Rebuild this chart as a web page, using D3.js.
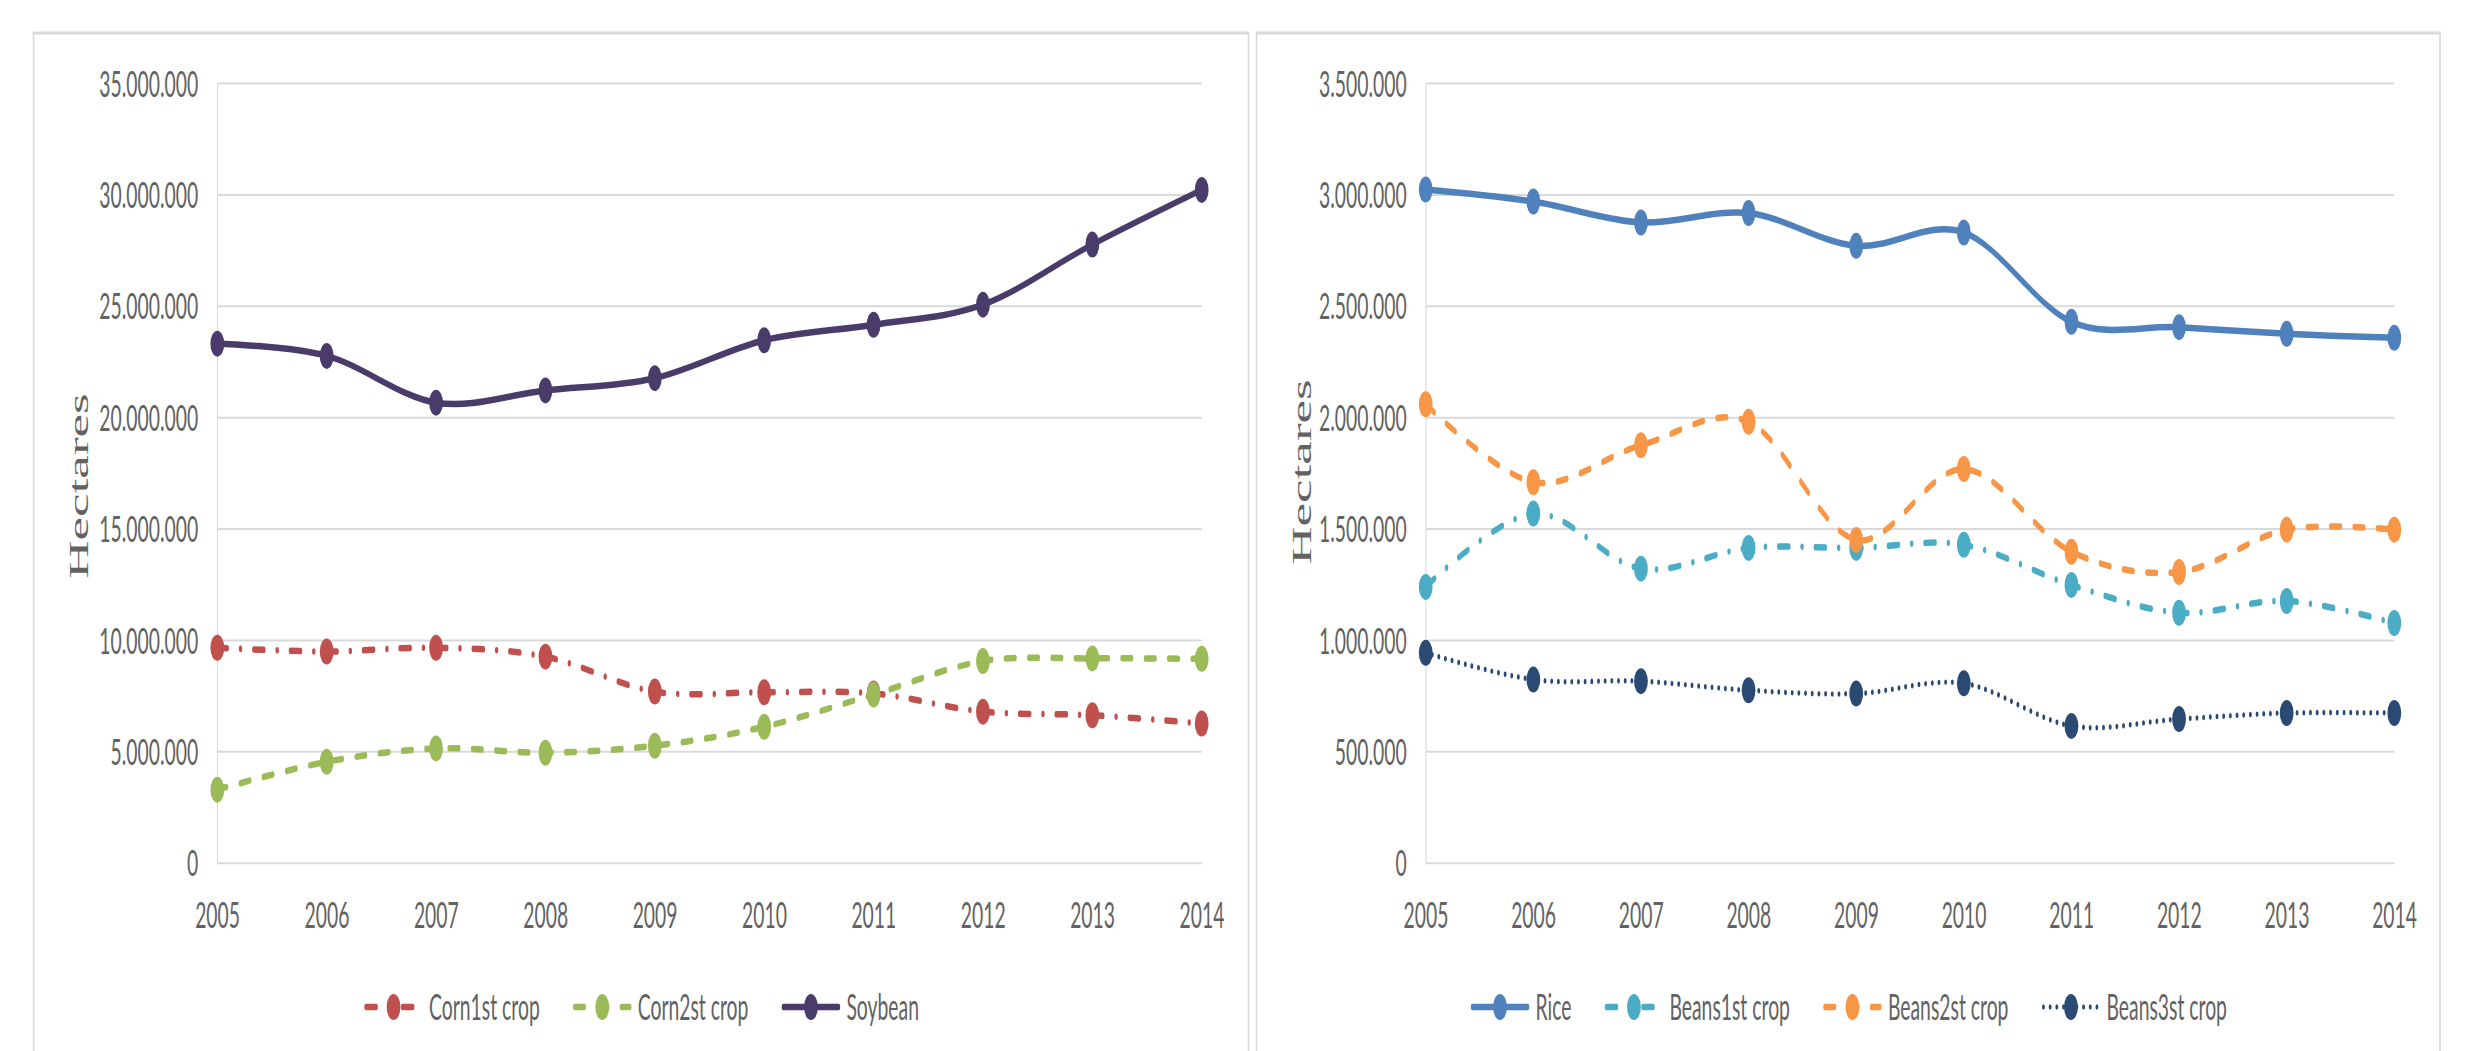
<!DOCTYPE html>
<html>
<head>
<meta charset="utf-8">
<script src="https://cdn.jsdelivr.net/npm/d3@7"></script>
<style>
  html, body { margin: 0; padding: 0; background: #fff; }
  svg { display: block; }
</style>
</head>
<body>
<svg id="chart" width="2466" height="1051"></svg>
<script>
// ---- data ---------------------------------------------------------------
const years = [2005, 2006, 2007, 2008, 2009, 2010, 2011, 2012, 2013, 2014];

// planted area, hectares
const corn1st = [9650000, 9480000, 9650000, 9250000, 7680000, 7650000, 7600000, 6780000, 6620000, 6250000];
const corn2nd = [3280000, 4530000, 5130000, 4940000, 5250000, 6100000, 7550000, 9050000, 9170000, 9150000];
const soybean = [23300000, 22750000, 20650000, 21200000, 21750000, 23450000, 24150000, 25050000, 27750000, 30200000];

const rice    = [3022000, 2968000, 2874000, 2916000, 2769000, 2829000, 2428000, 2404000, 2374000, 2356000];
const beans1  = [1238000, 1567000, 1320000, 1413000, 1413000, 1427000, 1247000, 1122000, 1175000, 1076000];
const beans2  = [2058000, 1708000, 1874000, 1979000, 1449000, 1767000, 1396000, 1305000, 1495000, 1495000];
const beans3  = [942000, 822000, 815000, 774000, 759000, 805000, 614000, 645000, 672000, 672000];

const leftTicks  = [0, 5000000, 10000000, 15000000, 20000000, 25000000, 30000000, 35000000];
const rightTicks = [0, 500000, 1000000, 1500000, 2000000, 2500000, 3000000, 3500000];

const leftNames  = ["Corn1st crop", "Corn2st crop", "Soybean"];
const rightNames = ["Rice", "Beans1st crop", "Beans2st crop", "Beans3st crop"];

// ---- drawing setup --------------------------------------------------------
const K = 0.53;                 // horizontal squeeze applied to the whole drawing
const X = v => v / K;           // screen x -> drawing x
const Y_ZERO = 862.7, Y_TOP = 83;
const TEXT = "#626262";
const SANS = "Lato, 'Open Sans', sans-serif";

const dashes = {
  solid: null,
  dashDot: "19 25 0.01 25",
  dash: "18 26",
  dot: "0.01 12.6"
};

const fmt = d3.formatLocale({ decimal: ",", thousands: ".", grouping: [3], currency: ["", ""] }).format(",d");

const svg = d3.select("#chart");
svg.append("rect").attr("width", 2466).attr("height", 1051).attr("fill", "#fff");
const root = svg.append("g").attr("transform", `scale(${K},1)`);

function drawPanel(p) {
  const g = root.append("g");

  // chart frame
  g.append("rect")
    .attr("x", X(p.frame[0])).attr("y", 33)
    .attr("width", X(p.frame[1] - p.frame[0])).attr("height", 1100)
    .attr("fill", "#fff").attr("stroke", "#d9d9d9").attr("stroke-width", 3);

  const x = d3.scalePoint().domain(years).range([X(p.plot[0]), X(p.plot[1])]);
  const y = d3.scaleLinear().domain([0, p.max]).range([Y_ZERO, Y_TOP]);

  // value axis + gridlines
  const ya = g.append("g")
    .attr("transform", `translate(${X(p.plot[0])},0)`)
    .call(d3.axisLeft(y).tickValues(p.ticks).tickFormat(fmt)
      .tickSize(-(X(p.plot[1]) - X(p.plot[0]))).tickSizeOuter(0).tickPadding(36));
  ya.select(".domain").attr("stroke", "#d9d9d9").attr("stroke-width", 2);
  ya.selectAll(".tick line").attr("stroke", "#d9d9d9").attr("stroke-width", 2);
  ya.selectAll(".tick text")
    .attr("fill", TEXT).attr("dy", "0.36em")
    .style("font-family", SANS).style("font-size", "36.5px");

  // year axis labels
  const xa = g.append("g")
    .attr("transform", `translate(0,${Y_ZERO})`)
    .call(d3.axisBottom(x).tickSize(0).tickPadding(39));
  xa.select(".domain").remove();
  xa.selectAll(".tick text")
    .attr("fill", TEXT)
    .style("font-family", SANS).style("font-size", "36.5px");

  // axis title
  g.append("text")
    .attr("transform", `translate(${X(p.titleAt[0])},${p.titleAt[1]}) rotate(-90)`)
    .attr("text-anchor", "middle").attr("dy", "0.33em")
    .attr("fill", TEXT)
    .style("font-family", "'Liberation Serif', 'DejaVu Serif', serif").style("font-size", "53px")
    .text("Hectares");

  // series
  const line = d3.line()
    .x((d, i) => x(years[i]))
    .y(d => y(d))
    .curve(d3.curveCardinal);

  p.series.forEach(s => {
    const sg = g.append("g");
    sg.append("path")
      .attr("d", line(s.values))
      .attr("fill", "none").attr("stroke", s.color)
      .attr("stroke-width", s.style === "dot" ? 5.5 : 6.5)
      .attr("stroke-linecap", "round").attr("stroke-linejoin", "round")
      .attr("stroke-dasharray", dashes[s.style]);
    sg.selectAll("circle").data(s.values).join("circle")
      .attr("cx", (d, i) => x(years[i])).attr("cy", d => y(d))
      .attr("r", 13).attr("fill", s.color);
  });

  // legend, centred on the frame
  const lg = g.append("g");
  const items = p.series.map(s => {
    const ig = lg.append("g");
    const t = ig.append("text")
      .attr("x", X(66)).attr("y", 1007).attr("dy", "0.36em")
      .attr("fill", TEXT)
      .style("font-family", SANS).style("font-size", "36.5px")
      .text(s.name);
    ig.append("line")
      .attr("x1", X(3)).attr("x2", X(58)).attr("y1", 1007).attr("y2", 1007)
      .attr("stroke", s.color).attr("stroke-width", s.style === "dot" ? 5.5 : 6.5)
      .attr("stroke-linecap", "round")
      .attr("stroke-dasharray", dashes[s.style]);
    ig.append("circle").attr("cx", X(30.5)).attr("cy", 1007).attr("r", 13).attr("fill", s.color);
    return { g: ig, w: 66 + t.node().getComputedTextLength() * K };
  });
  const gap = 32;
  const total = d3.sum(items, d => d.w) + gap * (items.length - 1);
  let cx = (p.frame[0] + p.frame[1]) / 2 - total / 2;
  items.forEach(it => {
    it.g.attr("transform", `translate(${X(cx)},0)`);
    cx += it.w + gap;
  });
}

drawPanel({
  frame: [33.5, 1248.5],
  plot: [217.3, 1201.7],
  max: 35000000,
  ticks: leftTicks,
  titleAt: [79, 486],
  series: [
    { name: leftNames[0], values: corn1st, color: "#C0504D", style: "dashDot" },
    { name: leftNames[1], values: corn2nd, color: "#9BBB59", style: "dash" },
    { name: leftNames[2], values: soybean, color: "#4B3B6B", style: "solid" }
  ]
});

drawPanel({
  frame: [1256.5, 2440],
  plot: [1425.7, 2394.3],
  max: 3500000,
  ticks: rightTicks,
  titleAt: [1301.5, 472],
  series: [
    { name: rightNames[0], values: rice,   color: "#4F81BD", style: "solid" },
    { name: rightNames[1], values: beans1, color: "#4BACC6", style: "dashDot" },
    { name: rightNames[2], values: beans2, color: "#F79646", style: "dash" },
    { name: rightNames[3], values: beans3, color: "#2A4A74", style: "dot" }
  ]
});
</script>
</body>
</html>
